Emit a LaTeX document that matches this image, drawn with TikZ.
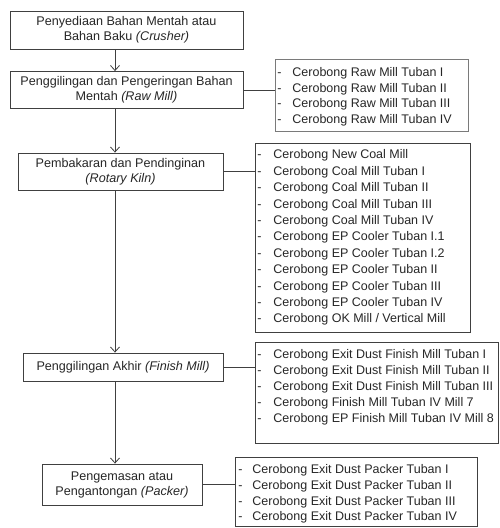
\documentclass[tikz,border=0pt]{standalone}
\usepackage{fontspec}
\setmainfont{Liberation Sans}
\usetikzlibrary{arrows.meta}
\definecolor{txt}{HTML}{262626}
\definecolor{edge}{HTML}{404040}
\definecolor{edgelight}{HTML}{7A7A7A}
\begin{document}
\begin{tikzpicture}[x=1pt,y=1pt,
  every node/.style={text=txt,font=\fontsize{12.6}{15}\selectfont},
  mainbox/.style={draw=edge,line width=0.85pt,inner sep=0pt,align=center},
  lbox/.style={draw=edge,line width=0.85pt,inner sep=0pt,anchor=north west},
  flow/.style={draw=edge,line width=0.8pt,-{Straight Barb[length=5pt,width=9pt,line width=0.8pt]}},
  link/.style={draw=edge,line width=0.8pt}]
\useasboundingbox (0,0) rectangle (500,-528);
\coordinate (ax) at (115,0);
% main process boxes
\node[mainbox,minimum width=233pt,minimum height=38pt] (B1) at (126.5,-30)
  {Penyediaan Bahan Mentah atau\\Bahan Baku \textit{(Crusher)}};
\node[mainbox,minimum width=233pt,minimum height=37pt] (B2) at (126.5,-90)
  {Penggilingan dan Pengeringan Bahan\\Mentah \textit{(Raw Mill)}};
\node[mainbox,minimum width=205pt,minimum height=37pt] (B3) at (120.5,-171.5)
  {Pembakaran dan Pendinginan\\\textit{(Rotary Kiln)}};
\node[mainbox,minimum width=200pt,minimum height=28pt] (B4) at (123,-367)
  {Penggilingan Akhir \textit{(Finish Mill)}};
\node[mainbox,minimum width=160pt,minimum height=41pt] (B5) at (122,-484.5)
  {Pengemasan atau\\Pengantongan \textit{(Packer)}};
% lists
\node[lbox,draw=edgelight] (L1) at (275,-59) {\parbox[t][72pt][t]{193pt}{\fontsize{12.5}{15.7}\selectfont
  \makebox[17pt][l]{\hspace{2pt}-}\rule{0pt}{17pt}Cerobong Raw Mill Tuban I\\
  \makebox[17pt][l]{\hspace{2pt}-}Cerobong Raw Mill Tuban II\\
  \makebox[17pt][l]{\hspace{2pt}-}Cerobong Raw Mill Tuban III\\
  \makebox[17pt][l]{\hspace{2pt}-}Cerobong Raw Mill Tuban IV}};
\node[lbox] (L2) at (255,-143) {\parbox[t][189pt][t]{215pt}{\fontsize{12.5}{16.4}\selectfont
  \makebox[18pt][l]{\hspace{2pt}-}\rule{0pt}{15.5pt}Cerobong New Coal Mill\\
  \makebox[18pt][l]{\hspace{2pt}-}Cerobong Coal Mill Tuban I\\
  \makebox[18pt][l]{\hspace{2pt}-}Cerobong Coal Mill Tuban II\\
  \makebox[18pt][l]{\hspace{2pt}-}Cerobong Coal Mill Tuban III\\
  \makebox[18pt][l]{\hspace{2pt}-}Cerobong Coal Mill Tuban IV\\
  \makebox[18pt][l]{\hspace{2pt}-}Cerobong EP Cooler Tuban I.1\\
  \makebox[18pt][l]{\hspace{2pt}-}Cerobong EP Cooler Tuban I.2\\
  \makebox[18pt][l]{\hspace{2pt}-}Cerobong EP Cooler Tuban II\\
  \makebox[18pt][l]{\hspace{2pt}-}Cerobong EP Cooler Tuban III\\
  \makebox[18pt][l]{\hspace{2pt}-}Cerobong EP Cooler Tuban IV\\
  \makebox[18pt][l]{\hspace{2pt}-}Cerobong OK Mill / Vertical Mill}};
\node[lbox] (L3) at (255,-342) {\parbox[t][101pt][t]{243pt}{\fontsize{12.5}{16}\selectfont
  \makebox[18pt][l]{\hspace{2pt}-}\rule{0pt}{16.5pt}Cerobong Exit Dust Finish Mill Tuban I\\
  \makebox[18pt][l]{\hspace{2pt}-}Cerobong Exit Dust Finish Mill Tuban II\\
  \makebox[18pt][l]{\hspace{2pt}-}Cerobong Exit Dust Finish Mill Tuban III\\
  \makebox[18pt][l]{\hspace{2pt}-}Cerobong Finish Mill Tuban IV Mill 7\\
  \makebox[18pt][l]{\hspace{2pt}-}Cerobong EP Finish Mill Tuban IV Mill 8}};
\node[lbox] (L4) at (235,-457) {\parbox[t][69pt][t]{242pt}{\fontsize{12.5}{15.6}\selectfont
  \makebox[17pt][l]{\hspace{3pt}-}\rule{0pt}{16.5pt}Cerobong Exit Dust Packer Tuban I\\
  \makebox[17pt][l]{\hspace{3pt}-}Cerobong Exit Dust Packer Tuban II\\
  \makebox[17pt][l]{\hspace{3pt}-}Cerobong Exit Dust Packer Tuban III\\
  \makebox[17pt][l]{\hspace{3pt}-}Cerobong Exit Dust Packer Tuban IV}};
% flow arrows
\draw[flow] (B1.south -| ax) -- (B2.north -| ax);
\draw[flow] (B2.south -| ax) -- (B3.north -| ax);
\draw[flow] (B3.south -| ax) -- (B4.north -| ax);
\draw[flow] (B4.south -| ax) -- (B5.north -| ax);
% links to lists
\draw[link] (B2.east) -- (B2.east -| L1.west);
\draw[link] (B3.east) -- (B3.east -| L2.west);
\draw[link] (B4.east) -- (B4.east -| L3.west);
\draw[link] (B5.east) -- (B5.east -| L4.west);
\end{tikzpicture}
\end{document}
